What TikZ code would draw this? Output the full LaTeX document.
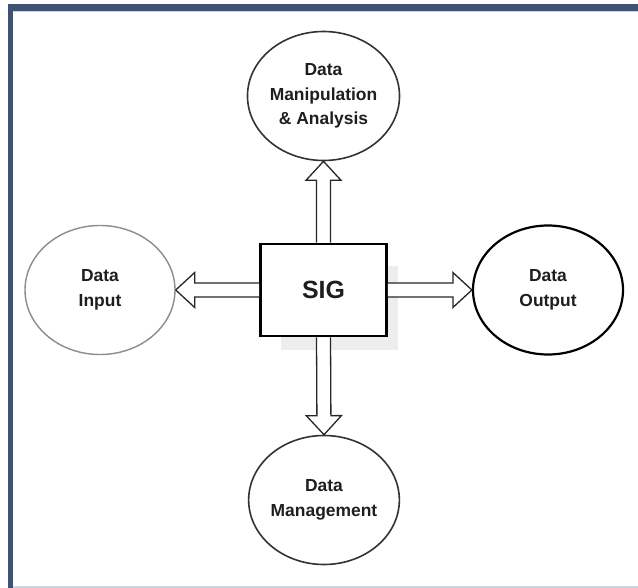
\documentclass[tikz,border=0pt]{standalone}
\usepackage{fontspec}
\setmainfont{Liberation Sans}
\usetikzlibrary{shapes.geometric,calc}

\definecolor{framebar}{HTML}{3D5274}
\definecolor{frameline}{HTML}{C9D6E3}
\definecolor{inkgray}{HTML}{1E1E1E}

\tikzset{
  bubble/.style={ellipse, draw, fill=white, line width=1.6bp, inner sep=0pt,
    minimum width=150bp, minimum height=129bp, align=center, text=inkgray,
    font=\fontsize{17.5}{24.5}\selectfont\bfseries},
  sigbox/.style={rectangle, draw, fill=white, line width=2.6bp, inner sep=0pt,
    minimum width=126bp, minimum height=92bp, text=inkgray,
    font=\fontsize{25}{30}\selectfont\bfseries},
  blockarrow/.style={draw=black!85, fill=white, line width=1.3bp, line join=miter}
}

% hollow arrow from #1 to #2
\newcommand{\blockarrow}[2]{%
  \coordinate (hb) at ($(#2)!19bp!(#1)$);
  \draw[blockarrow] ($(#1)!7bp!90:(#2)$) -- ($(hb)!7bp!90:(#2)$)
    -- ($(hb)!17.5bp!90:(#2)$) -- (#2) -- ($(hb)!17.5bp!-90:(#2)$)
    -- ($(hb)!7bp!-90:(#2)$) -- ($(#1)!7bp!-90:(#2)$);
}

\begin{document}
\begin{tikzpicture}[x=1bp,y=-1bp]
  \useasboundingbox (0,0) rectangle (638,588);

  \fill[frameline] (12,11) rectangle (638,12.5);
  \fill[frameline] (12,585.5) rectangle (638,588);
  \fill[framebar] (8,4) rectangle (638,11);
  \fill[framebar] (8,4) rectangle (12.5,588);

  \fill[black!7] (281,266) rectangle (398,350);

  \node[sigbox] (sig) at (323.5,290) {SIG};

  \node[bubble, draw=black!80] (manip) at (323.5,96) {Data\\Manipulation\\\& Analysis};
  \node[bubble, draw=black!45, line width=1.4bp] (input) at (100,290) {Data\\Input};
  \node[bubble, draw=black, line width=2.2bp] (output) at (548,290) {Data\\Output};
  \node[bubble, draw=black!80] (mgmt) at (324,500) {Data\\Management};

  \blockarrow{sig.north}{manip.south}
  \blockarrow{sig.west}{input.east}
  \blockarrow{sig.east}{output.west}
  \blockarrow{sig.south}{mgmt.north}
\end{tikzpicture}
\end{document}
